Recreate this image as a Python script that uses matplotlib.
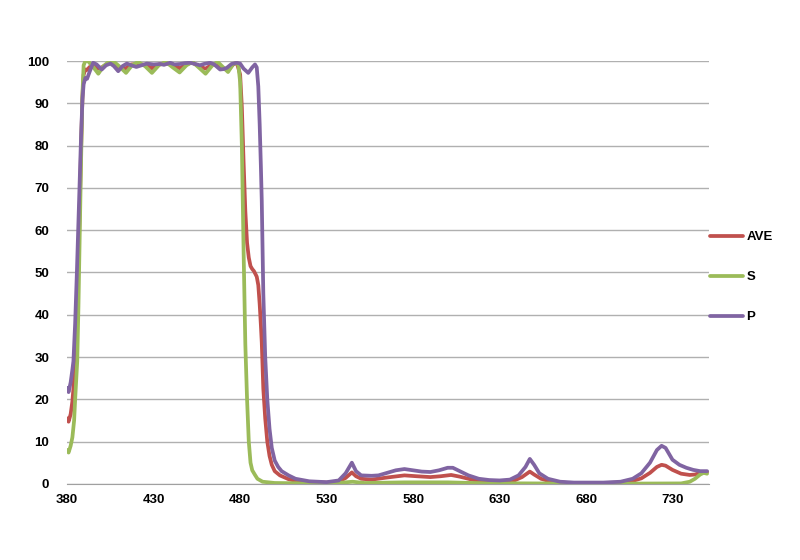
import matplotlib
matplotlib.use("Agg")
import matplotlib.pyplot as plt

plt.rcParams['font.family'] = ['Liberation Sans', 'DejaVu Sans']
plt.rcParams['font.size'] = 9.5
plt.rcParams['font.weight'] = 'bold'

# wavelength (nm) / transmission (%)
s_wl = [380, 380.8, 382, 383, 384, 384.6, 385.8, 386.5, 387.2, 388, 388.8, 389.5, 390.5, 392,
        395, 398, 401, 404, 406.5, 410, 414, 417.5, 421, 425, 429, 433, 437, 441, 445, 449,
        452.5, 456, 460, 464, 467, 470, 473, 476, 478, 479, 480, 481, 482, 483, 484, 485, 486,
        487, 488.6, 490, 493, 500, 520, 535, 545, 552, 575, 600, 620, 650, 700, 735, 740, 743,
        746, 748, 750]
s_val = [8, 7.4, 9, 11, 15, 20, 29, 42, 58, 76, 92, 99, 100, 100,
         98.6, 97, 98.8, 99.8, 100, 98.8, 97.2, 99, 99.8, 98.8, 97.2, 99, 99.8, 98.5, 97.3, 99,
         99.8, 98.5, 97, 99, 99.8, 98.6, 97.4, 99.3, 99.6, 99, 95, 80, 55, 33, 20, 10, 5,
         3.2, 2.1, 1.2, 0.5, 0.2, 0.1, 0.15, 0.5, 0.2, 0.35, 0.35, 0.15, 0.1, 0.05, 0.1, 0.5, 1.2,
         2.2, 2.6, 2.4]

p_wl = [380, 380.8, 382, 383, 383.6, 384.6, 385.6, 386.5, 387.1, 388, 388.8, 389.5, 390.5, 391.5,
        393, 395, 397, 400, 402.5, 405, 407, 409.5, 412, 414.5, 417, 420, 423, 426, 430, 433.7,
        436, 439.5, 442, 445.3, 448, 451, 454, 456.8, 459, 462.6, 465, 468.4, 470.5, 472.3, 475,
        478, 480, 482, 484.7, 487, 488.6, 489.6, 490.5, 491.3, 492, 492.5, 493.4, 494.5, 495.7,
        497, 498.3, 500, 502, 504, 508, 512, 520, 530, 537, 541, 544.6, 547, 550, 556, 560, 565,
        570, 575, 580, 585, 590, 595, 600, 603, 607, 612, 618, 624, 630, 636, 641, 645, 647.5,
        650, 653, 658, 665, 673, 690, 700, 707, 712, 717, 721, 723.7, 726, 730, 734, 738, 742,
        746, 750]
p_val = [22.7, 21.7, 24, 27, 29, 38, 50, 62, 70, 82, 90.8, 94.5, 96, 95.8,
         97.5, 99.6, 99.2, 98, 99, 99.4, 98.8, 97.6, 98.8, 99.4, 99, 98.6, 99, 99.4, 99.2, 99.3,
         99.1, 99.6, 99.2, 99.3, 99.5, 99.6, 99.3, 99, 99.3, 99.6, 99.2, 98, 98.1, 98.4, 99.3,
         99.6, 99.4, 98.2, 97.2, 98.5, 99.2, 98.5, 94, 85, 75, 67, 45, 30, 20,
         13, 8.5, 5.5, 4, 3, 2, 1.2, 0.6, 0.4, 0.8, 2.5, 5, 3, 2, 1.9, 2, 2.6,
         3.2, 3.5, 3.2, 2.9, 2.8, 3.2, 3.8, 3.8, 3, 2, 1.2, 0.9, 0.8, 1, 2, 4, 5.9,
         4.5, 2.5, 1.2, 0.5, 0.3, 0.3, 0.5, 1.2, 2.5, 5, 8, 9, 8.5, 5.7, 4.5, 3.8, 3.3,
         3, 3]

ave_wl = [380, 380.8, 382, 383, 383.6, 384.6, 385.6, 386.5, 387.2, 388, 388.8, 389.5, 390.5, 391.5,
          393, 395, 398, 400, 403, 406, 410, 414, 417, 421, 425, 429, 433, 437, 441, 445, 449,
          452, 456, 460, 464, 467, 470, 473, 476, 478, 479, 480, 481, 482, 483, 484, 485, 486,
          487, 488, 489, 489.6, 490.5, 491.3, 492, 492.5, 493.4, 494.5, 495.7, 497, 498.3, 500,
          503, 508, 512, 520, 530, 537, 541, 544.6, 547, 550, 556, 565, 575, 582, 590, 596, 602,
          607, 615, 624, 632, 638, 643, 647.5, 650, 654, 660, 670, 690, 700, 707, 712, 717, 721,
          723.7, 726, 730, 735, 740, 743, 746, 750]
ave_val = [15.5, 14.7, 16.5, 19.5, 22.5, 29, 39, 52, 64.5, 79, 91.4, 96.8, 98, 97.9,
           98.6, 99.2, 98.2, 98.5, 99.3, 99.7, 98.4, 98.3, 99.2, 99.3, 99.1, 98.3, 99.2, 99.5, 99,
           98.3, 99.2, 99.7, 98.8, 98.2, 99.2, 99, 98.3, 97.8, 99.2, 99.6, 98.3, 96.8, 89, 76,
           64.5, 57, 53.5, 51.5, 50.8, 50.3, 49.5, 49, 47, 42.5, 37.5, 33.5, 22.5, 15.5, 10, 6.6,
           4.5, 3, 2, 1.1, 0.7, 0.4, 0.3, 0.5, 1.4, 2.7, 1.8, 1.2, 1, 1.5, 2, 1.8, 1.6, 1.8, 2.1,
           1.7, 0.9, 0.5, 0.5, 0.7, 1.6, 2.9, 2.2, 1.2, 0.5, 0.2, 0.2, 0.3, 0.7, 1.3, 2.6, 4,
           4.5, 4.3, 3.3, 2.4, 2.1, 2.2, 2.6, 2.8]

x_ticks = [380, 430, 480, 530, 580, 630, 680, 730]
y_ticks = [0, 10, 20, 30, 40, 50, 60, 70, 80, 90, 100]

fig = plt.figure(figsize=(8, 5.6), dpi=100)
ax = fig.add_axes([0.084, 0.136, 0.802, 0.755])

ax.plot(ave_wl, ave_val, color='#C0504D', lw=2.7, label='AVE', solid_capstyle='round')
ax.plot(s_wl, s_val, color='#9BBB59', lw=2.7, label='S', solid_capstyle='round')
ax.plot(p_wl, p_val, color='#8064A2', lw=2.7, label='P', solid_capstyle='round')

ax.set_xlim(380, 751)
ax.set_ylim(0, 100)
ax.set_xticks(x_ticks)
ax.set_yticks(y_ticks)
ax.yaxis.grid(True, color='#B0B0B0', lw=1)
ax.set_axisbelow(True)
for side in ['top', 'right', 'left']:
    ax.spines[side].set_visible(False)
ax.spines['bottom'].set_color('#A0A0A0')
ax.tick_params(axis='both', length=0, colors='black')
ax.tick_params(axis='y', pad=13)
ax.tick_params(axis='x', pad=7)
ax.patch.set_alpha(0)

fig.legend(loc='center left', bbox_to_anchor=(0.887, 0.505), frameon=False,
           handlelength=2.5, handletextpad=0.3, labelspacing=2.1,
           borderpad=0, borderaxespad=0)

fig.savefig('out.png', dpi=100)
